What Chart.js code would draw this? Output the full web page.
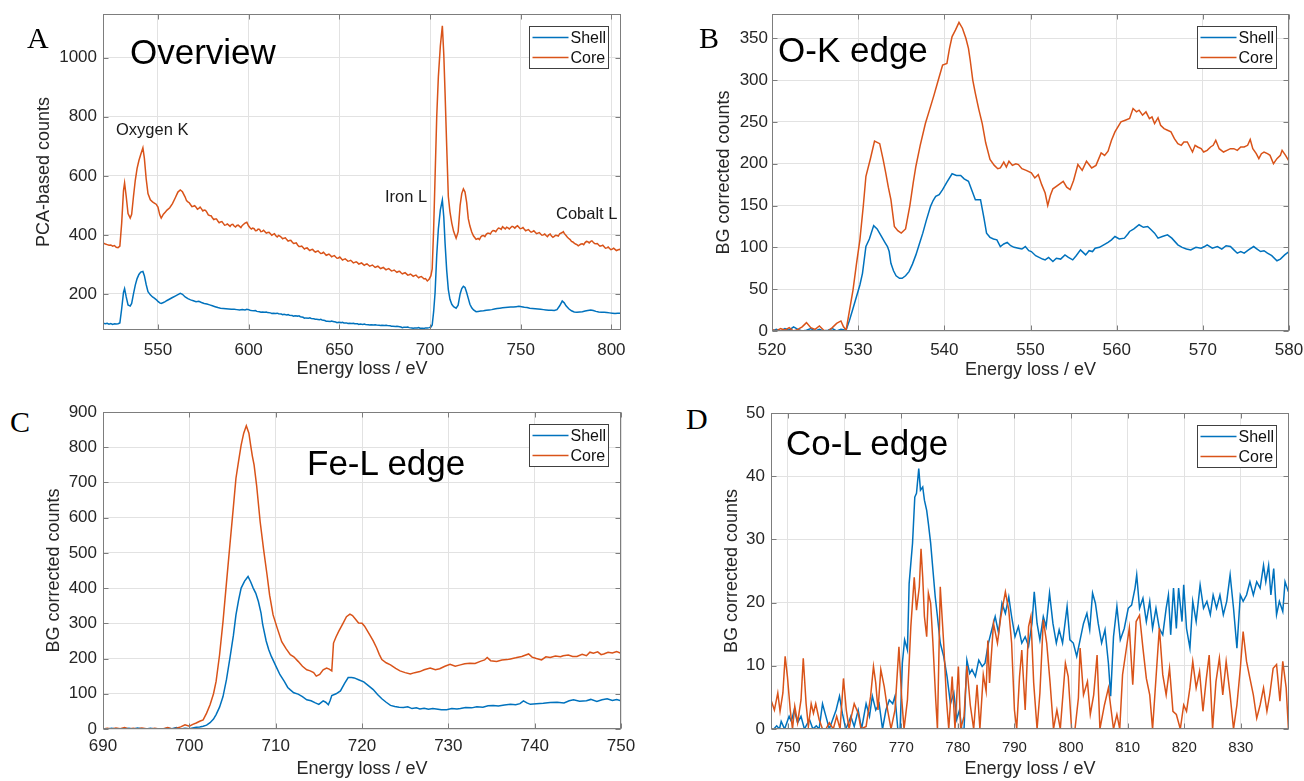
<!DOCTYPE html>
<html>
<head>
<meta charset="utf-8">
<script src="https://cdn.jsdelivr.net/npm/chart.js@4.4.1/dist/chart.umd.min.js"></script>
<style>
  body { margin: 0; background: #fff; width: 1304px; height: 781px; position: relative; overflow: hidden; font-family: "Liberation Sans", Arial, sans-serif; }
  canvas { position: absolute; }
  .lbl { position: absolute; white-space: nowrap; line-height: 1; color: #000; }
  .letter { font-family: "Liberation Serif", "Times New Roman", serif; font-size: 30px; }
  .ttl { font-size: 35px; }
  .ann { font-size: 16.5px; color: #1a1a1a; }
</style>
</head>
<body>
<canvas id="panelA"></canvas>
<canvas id="panelB"></canvas>
<canvas id="panelC"></canvas>
<canvas id="panelD"></canvas>

<div class="lbl letter" style="left:27px;top:23px">A</div>
<div class="lbl letter" style="left:699px;top:23px">B</div>
<div class="lbl letter" style="left:10px;top:407px">C</div>
<div class="lbl letter" style="left:686px;top:404px">D</div>

<div class="lbl ttl" style="left:130px;top:34px">Overview</div>
<div class="lbl ttl" style="left:778px;top:32px">O-K edge</div>
<div class="lbl ttl" style="left:307px;top:445px">Fe-L edge</div>
<div class="lbl ttl" style="left:786px;top:425px">Co-L edge</div>

<div class="lbl ann" style="left:116px;top:121px">Oxygen K</div>
<div class="lbl ann" style="left:385px;top:188px">Iron L</div>
<div class="lbl ann" style="left:556px;top:205px">Cobalt L</div>

<script>
// ---- data: [energy loss (eV), counts] ----

// A: overview
const ovCore = [[519.5,373],[521,369],[522,367],[523,365],[524,366],[525,362],[526,364],[527,358],[528,357],[529,362],
  [530,440],[531,550],[531.6,576],[532.5,530],[533.5,472],[534.7,457],[535.5,470],[536.5,530],[537.5,585],[538.5,625],
  [539.5,652],[540.5,672],[541.7,695],[542.5,660],[543.5,590],[544.5,540],[545.8,519],[547,512],[548,508],[549,504],
  [550,494],[551,468],[551.8,457],[553,470],[554,477],[555,484],[556.5,492],[558,506],[559.5,525],[561,545],
  [562.3,552],[563.5,546],[565,528],[566.5,512],[568,502],[569.5,497],[571,494],[572.5,490],[574,488],[575.5,484],
  [577,476],[578.5,466],[580,458],[581.5,454],[583,447],[584.5,444],[586,439],[587.5,434],[589,433],[590.5,435],
  [592,430],[593.5,432],[595,429],[596.5,432],[598,440],[599,443],[600,430],[601.5,420],[603,421],[604.5,415],
  [606,419],[607.5,412],[609,411],[610.5,408],[612,404],[613.5,402],[615,397],[616.5,398],[618,392],[619.5,389],
  [621,384],[622.5,381],[624,376],[625.5,372],[627,366],[628.5,361],[630,357],[631.5,355],[633,351],[634.5,350],
  [636,346],[637.5,344],[639,341],[640.5,338],[642,336],[643.5,333],[645,331],[646.5,328],[648,325],[649.5,322],
  [651,320],[652.5,317],[654,315],[655.5,312],[657,310],[658.5,307],[660,306],[661.5,303],[663,301],[664.5,300],
  [666,298],[667.5,296],[669,294],[670.5,292],[672,290],[673.5,288],[675,286],[676.5,284],[678,282],[679.5,279],
  [681,277],[682.5,276],[684,272],[685.5,270],[687,268],[688.5,265],[690,264],[691.5,262],[693,259],[694.5,258],
  [696,255],[697.5,252],[698.5,244],[699.5,250],[700.5,262],[701.2,285],[702,420],[702.8,598],[703.7,800],[704.6,935],
  [705.7,1040],[706.8,1108],[707.6,1010],[708.3,880],[709.2,700],[710.1,530],[711,478],[712,440],[713,412],[714.4,389],
  [715.5,410],[716.6,500],[717.5,540],[718.4,556],[719.3,545],[720.2,510],[721.1,455],[722,430],[723,410],[724,396],
  [725.4,385],[726.5,388],[728,393],[729.5,398],[731,402],[732.5,406],[734,411],[735.5,414],[737,418],[738.5,422],
  [740,428],[741.5,420],[743,424],[744.5,425],[746,427],[747.5,428],[749,426],[750.5,422],[752,419],[753.5,416],
  [755,413],[756.5,411],[758,409],[759.5,406],[761,403],[762.5,400],[764,398],[765.5,400],[767,396],[768.5,395],
  [770,398],[771.5,404],[772.9,408],[774,405],[775,398],[776.5,388],[778,378],[779.5,372],[781,367],[782.5,366],
  [784,370],[785.5,374],[787,377],[788.6,378],[790,375],[791.5,370],[793,366],[794.5,363],[796,360],[797.5,356],
  [799,354],[800.5,352],[802,351],[803.5,349],[805.5,347],
  // in-between readings (noise on the slopes)
  [565.75,516],[567.25,509],[568.75,496],[570.25,499],[571.75,487],[573.25,494],[574.75,481],[576.25,483],[577.75,468],[579.25,465],
  [580.75,452],[582.25,454],[583.75,441],[585.25,445],[586.75,433],[588.25,437],[589.75,429],[591.25,436],[592.75,427],[594.25,433],
  [595.75,425],[597.25,436],[600.75,424],[602.25,423],[603.75,414],[605.25,420],[606.75,411],[608.25,416],[609.75,406],[611.25,409],
  [612.75,399],[614.25,404],[615.75,393],[617.25,396],[618.75,387],[620.25,390],[621.75,379],[623.25,382],[624.75,371],[626.25,373],
  [627.75,361],[629.25,362],[630.75,352],[632.25,356],[633.75,347],[635.25,351],[636.75,342],[638.25,346],[639.75,337],[641.25,341],
  [642.75,331],[644.25,335],[645.75,326],[647.25,330],[648.75,321],[650.25,325],[651.75,315],[653.25,319],[654.75,311],[656.25,314],
  [657.75,305],[659.25,309],[660.75,301],[662.25,305],[663.75,297],[665.25,302],[666.75,294],[668.25,298],[669.75,290],[671.25,294],
  [672.75,286],[674.25,290],[675.75,282],[677.25,286],[678.75,278],[680.25,281],[681.75,273],[683.25,277],[684.75,268],[686.25,272],
  [687.75,264],[689.25,267],[690.75,260],[692.25,264],[693.75,255],[695.25,259],[696.75,251],
  [727.25,384],[728.75,397],[730.25,394],[731.75,406],[733.25,403],[734.75,415],[736.25,411],[737.75,423],[739.25,419],[740.75,424],
  [742.25,426],[743.75,420],[745.25,429],[746.75,423],[748.25,431],[749.75,421],[751.25,425],[752.75,414],[754.25,418],[755.75,409],
  [757.25,414],[758.75,404],[760.25,408],[761.75,399],[763.25,403],[764.75,394],[766.25,403],[767.75,392],[769.25,399],[770.75,396],
  [773.5,411],[775.75,392],[777.25,384],[778.75,376],[780.25,369],[781.75,363],[783.25,369],[784.75,367],[786.25,378],[787.75,373],
  [789.25,380],[790.75,371],[792.25,371],[793.75,362],[795.25,365],[796.75,355],[798.25,359],[799.75,350],[801.25,355],[802.75,347],
  [804.5,351]];
const ovShell = [[519.5,101],[521,99],[522,101],[523,98],[524,100],[525,97],[526,99],[527,98],[528,99],[529,102],
  [530,150],[531,205],[531.6,218],[532.5,190],[533.5,163],[534.7,159],[535.5,168],[536.5,200],[537.5,230],[538.5,252],
  [539.5,266],[540.5,274],[541.7,276],[542.5,262],[543.5,232],[544.5,208],[545.8,197],[547,190],[548,186],[549,181],
  [550,175],[551,170],[551.8,168],[553,171],[554,174],[555,178],[556.5,183],[558,188],[559.5,193],[561,198],
  [562.3,202],[563.5,199],[565,190],[566.5,184],[568,180],[569.5,177],[571,174],[572.5,175],[574,171],[575.5,168],
  [577,166],[578.5,163],[580,160],[581.5,157],[583,154],[584.5,152],[586,151],[587.5,150],[589,149],[590.5,148],
  [592,148],[593.5,147],[595,146],[596.5,147],[598,146],[599,148],[600,147],[601.5,144],[603,143],[604.5,141],
  [606,140],[607.5,139],[609,138],[610.5,137],[612,136],[613.5,135],[615,134],[616.5,133],[618,132],[619.5,131],
  [621,129],[622.5,128],[624,127],[625.5,126],[627,125],[628.5,123],[630,121],[631.5,119],[633,118],[634.5,117],
  [636,116],[637.5,114],[639,113],[640.5,112],[642,110],[643.5,108],[645,107],[646.5,107],[648,105],[649.5,104],
  [651,103],[652.5,102],[654,102],[655.5,101],[657,100],[658.5,99],[660,99],[661.5,98],[663,97],[664.5,97],
  [666,96],[667.5,96],[669,95],[670.5,95],[672,94],[673.5,94],[675,93],[676.5,93],[678,92],[679.5,91],
  [681,90],[682.5,90],[684,88],[685.5,87],[687,87],[688.5,86],[690,85],[691.5,85],[693,85],[694.5,84],
  [696,84],[697.5,85],[698.5,85],[699.5,86],[700.5,88],[701.2,95],[702,140],[702.8,205],[703.7,330],[704.6,420],
  [705.7,485],[706.8,518],[707.6,460],[708.3,372],[709.2,280],[710.1,215],[711,182],[712,165],[713,157],[714.4,152],
  [715.5,162],[716.6,200],[717.5,218],[718.4,226],[719.3,222],[720.2,205],[721.1,185],[722,165],[723,153],[724,146],
  [725.4,140],[726.5,141],[728,142],[729.5,143],[731,145],[732.5,146],[734,147],[735.5,149],[737,151],[738.5,152],
  [740,153],[741.5,154],[743,155],[744.5,156],[746,156],[747.5,157],[749,158],[750.5,157],[752,155],[753.5,154],
  [755,152],[756.5,151],[758,150],[759.5,149],[761,148],[762.5,147],[764,146],[765.5,145],[767,145],[768.5,144],
  [770,147],[771.5,160],[772.9,176],[774,170],[775,160],[776.5,150],[778,143],[779.5,139],[781,138],[782.5,139],
  [784,140],[785.5,142],[787,144],[788.6,146],[790,144],[791.5,141],[793,139],[794.5,138],[796,138],[797.5,137],
  [799,136],[800.5,135],[802,134],[803.5,135],[805.5,135],
  [600.75,145],[603.75,144],[606.75,138],[609.75,139],[612.75,134],[615.75,135],[618.75,130],[621.75,130],[624.75,125],[627.75,126],
  [630.75,118],[633.75,119],[636.75,114],[639.75,114],[642.75,108],[645.75,108],[648.75,103],[651.75,104],[654.75,100],[657.75,101],
  [660.75,97],[663.75,98],[666.75,95],[669.75,96],[672.75,93],[675.75,94],[678.75,91],[681.75,91],[684.75,86],[687.75,88],
  [690.75,84],[693.75,86],[696.75,83]];

// B: O-K edge
const okCore = [[520,2],[520.5,0],[521,3],[521.5,1],[522,4],[522.5,0],[523,2],[523.5,5],[524,10],[524.5,4],
  [525,2],[525.5,6],[526,1],[526.5,0],[527,4],[527.5,9],[528,12],[528.3,5],[528.6,1],[529,25],
  [529.4,49],[529.8,80],[530.2,109],[530.6,150],[530.9,185],[531.4,205],[531.9,227],[532.5,224],[532.9,205],[533.2,189],
  [533.5,172],[533.8,157],[534.2,125],[534.6,120],[535,117],[535.5,122],[536,150],[536.4,178],[536.7,197],[537.2,222],
  [537.8,248],[538.3,265],[538.8,282],[539.3,300],[539.8,318],[540.3,320],[540.6,338],[540.9,352],[541.3,360],[541.7,369],
  [542.1,362],[542.5,350],[542.8,338],[543,324],[543.3,300],[543.6,284],[544,265],[544.4,248],[544.8,225],[545.3,205],
  [545.8,198],[546.2,194],[546.5,195],[546.9,202],[547.2,196],[547.5,203],[547.9,198],[548.3,200],[548.6,199],[549,194],
  [549.5,192],[550.1,189],[550.5,183],[550.9,187],[551.3,175],[551.7,165],[552,150],[552.3,162],[552.6,170],[553,173],
  [553.4,176],[553.8,179],[554.2,172],[554.6,169],[555,180],[555.5,199],[556,192],[556.5,203],[557.1,195],[557.6,198],
  [558.2,213],[558.6,210],[559,215],[559.4,228],[559.8,238],[560.2,245],[560.5,250],[561,252],[561.5,254],[561.9,266],
  [562.3,262],[562.6,264],[563,258],[563.4,262],[563.8,254],[564.1,256],[564.4,248],[564.8,255],[565.1,246],[565.5,242],
  [565.9,240],[566.3,238],[566.7,230],[567.1,224],[567.5,222],[567.8,226],[568.2,226],[568.5,220],[568.8,214],[569.1,222],
  [569.4,220],[569.8,218],[570.1,214],[570.5,216],[570.9,220],[571.2,222],[571.5,228],[571.9,218],[572.4,214],[572.8,216],
  [573.2,218],[573.6,218],[574,216],[574.4,220],[574.8,220],[575.2,222],[575.5,229],[575.8,218],[576.2,212],[576.5,206],
  [576.8,212],[577.1,214],[577.5,212],[577.8,210],[578.2,200],[578.6,206],[579,210],[579.2,216],[579.6,210],[580,203]];
const okShell = [[520,0],[520.5,2],[521,0],[521.5,3],[522,1],[522.5,5],[523,2],[523.5,0],[524,1],[524.5,3],
  [525,0],[525.5,2],[526,0],[526.5,1],[527,3],[527.5,0],[528,2],[528.6,1],[529,13],[529.4,27],
  [529.8,41],[530.2,55],[530.5,69],[530.9,101],[531.3,110],[531.8,126],[532.2,122],[532.7,113],[533.1,106],[533.4,101],
  [533.6,95],[533.8,81],[534.1,72],[534.4,66],[534.8,63],[535.1,63],[535.5,66],[535.9,71],[536.3,80],[536.7,91],
  [537.1,104],[537.5,117],[537.9,132],[538.4,149],[538.7,156],[539,161],[539.4,163],[539.8,169],[540.3,178],[540.9,188],
  [541.4,186],[541.9,186],[542.3,182],[542.8,179],[543.2,168],[543.6,157],[544.2,157],[544.6,135],[544.9,117],[545.3,112],
  [545.7,110],[546.1,109],[546.5,101],[546.9,104],[547.3,106],[547.7,102],[548.1,100],[548.6,99],[549,98],[549.4,101],
  [549.8,96],[550.1,95],[550.6,90],[551,88],[551.4,86],[551.7,85],[552.1,88],[552.6,83],[553,87],[553.5,86],
  [554,91],[554.4,88],[554.9,85],[555.3,90],[555.8,97],[556.1,94],[556.4,91],[556.8,96],[557.2,95],[557.5,99],
  [558,100],[558.5,103],[559,106],[559.4,109],[559.8,113],[560.3,110],[560.9,111],[561.3,116],[561.5,119],[562,122],
  [562.6,127],[563.1,124],[563.6,125],[564,121],[564.4,117],[564.8,111],[565.3,113],[565.9,115],[566.4,111],[567.1,103],
  [567.6,100],[568.1,98],[568.6,97],[569.2,100],[569.8,99],[570.2,101],[570.5,103],[571.1,99],[571.7,101],[572.2,98],
  [572.7,102],[573.2,101],[573.6,97],[574,93],[574.4,95],[574.8,93],[575.3,97],[575.9,101],[576.3,98],[576.7,95],
  [577.1,96],[577.5,93],[578,90],[578.6,84],[579,86],[579.5,91],[580,95]];

// C: Fe-L edge
const feCore = [[690,0],[690.5,2],[691,0],[691.5,3],[692,1],[692.5,4],[693,0],[693.5,2],[694,0],[694.5,3],
  [695,1],[695.5,0],[696,2],[696.5,0],[697,1],[697.5,4],[698,0],[698.5,2],[699,6],[699.5,12],
  [700,8],[700.4,13],[700.8,17],[701.2,22],[701.6,26],[702,45],[702.4,69],[702.8,100],[703.1,135],[703.5,210],
  [703.9,305],[704.3,415],[704.7,523],[705.1,630],[705.4,712],[705.7,760],[706,806],[706.3,840],[706.6,861],[706.9,840],
  [707.1,806],[707.3,775],[707.5,750],[707.8,690],[708.2,589],[708.6,510],[709,438],[709.3,380],[709.7,324],[710.2,285],
  [710.7,248],[711.2,228],[711.7,211],[712.1,205],[712.6,192],[713.1,178],[713.6,168],[714,165],[714.4,160],[714.7,150],
  [715.1,155],[715.5,168],[715.9,173],[716.2,170],[716.5,165],[716.7,244],[717,262],[717.3,277],[717.8,300],[718.2,319],
  [718.6,326],[718.9,322],[719.3,310],[719.6,301],[720,300],[720.3,292],[720.9,267],[721.3,250],[721.7,230],[722,212],
  [722.3,197],[722.8,188],[723.3,182],[723.9,172],[724.4,165],[725,160],[725.6,156],[726.1,160],[726.7,163],[727.2,168],
  [727.9,173],[728.5,168],[729,171],[729.6,178],[730.2,184],[730.8,178],[731.4,182],[731.9,185],[732.5,187],[733.1,186],
  [733.7,192],[734.2,196],[734.5,203],[734.9,194],[735.6,192],[736.2,196],[736.8,197],[737.2,199],[737.8,202],[738.5,206],
  [739.3,213],[739.7,204],[740.2,200],[740.8,196],[741.3,205],[741.8,203],[742.4,207],[743,205],[743.3,208],[743.9,210],
  [744.4,206],[744.9,206],[745.5,212],[746,208],[746.4,218],[746.8,215],[747.3,219],[747.7,211],[748,213],[748.5,218],
  [749,216],[749.5,220],[750,215]];
const feShell = [[690,1],[690.5,0],[691,2],[691.5,0],[692,1],[692.5,0],[693,2],[693.5,0],[694,3],[694.5,1],
  [695,0],[695.5,2],[696,0],[696.5,1],[697,0],[697.5,2],[698,1],[698.5,4],[699,0],[699.5,2],
  [700,1],[700.4,3],[700.8,5],[701.2,6],[701.6,8],[702,11],[702.4,18],[702.8,28],[703.1,41],[703.5,62],
  [703.9,92],[704.3,140],[704.7,201],[705.1,265],[705.4,324],[705.7,365],[706,400],[706.4,420],[706.8,433],[707.1,418],
  [707.4,400],[707.7,385],[708,362],[708.3,330],[708.5,296],[708.9,250],[709.2,225],[709.5,206],[710,180],[710.5,154],
  [711,135],[711.4,118],[711.7,111],[712.1,103],[712.6,99],[713.1,92],[713.6,83],[714.1,80],[714.6,74],[715,70],
  [715.5,80],[715.8,76],[716.1,69],[716.3,80],[716.5,95],[717,100],[717.5,108],[718,130],[718.4,146],[718.8,146],
  [719.1,145],[719.6,140],[720.2,134],[720.7,124],[721.3,112],[721.8,98],[722.3,86],[722.8,76],[723.3,67],[723.8,64],
  [724.3,62],[724.8,61],[725.3,63],[725.8,58],[726.3,60],[726.7,57],[727.2,59],[727.7,56],[728.2,58],[728.6,57],
  [729.2,55],[729.8,55],[730.4,58],[731,57],[731.4,58],[732,61],[732.7,60],[733.3,63],[734,62],[734.6,66],
  [735.2,67],[735.8,65],[736.5,68],[737.2,70],[737.8,69],[738.3,72],[738.7,80],[739.1,74],[739.5,70],[740.2,72],
  [741,73],[741.8,75],[742.6,76],[743.4,74],[744,80],[744.5,83],[745.2,79],[746,80],[746.5,84],[747.2,78],
  [747.8,83],[748.4,86],[749,81],[749.5,84],[750,80]];

// D: Co-L edge
const coCore = [[747,4.6],[747.6,3],[748.2,5.7],[748.6,2.8],[749.1,5.7],[749.5,11.5],[749.9,8.3],[750.4,3],[750.8,0],[751.2,3.6],
  [751.7,1],[752.3,4.6],[752.7,11.2],[753.2,4],[753.6,0.4],[754.1,4],[754.5,2.5],[754.9,4],[755.5,1.5],[756.1,0],
  [756.7,0],[757.3,1],[758,0],[758.6,2],[759.2,0],[759.8,8],[760.3,3],[760.8,0],[761.2,2],[761.7,4],
  [762.4,2.5],[762.9,0],[763.8,0.4],[764.6,5.2],[765.1,9.9],[765.5,7.3],[765.9,3],[766.4,9.4],[767,6.7],[767.6,3],
  [768.2,0],[768.9,3],[769.6,13],[770.1,4.6],[770.5,0],[771.1,4.6],[771.7,16.2],[772.3,24],[772.7,18.8],[773.2,22.5],
  [773.5,28.5],[773.8,24],[774.1,17.8],[774.5,14.6],[774.8,21.5],[775.2,19.9],[775.6,13.6],[776.1,4.6],[776.4,0],[776.9,22.5],
  [777.5,13.6],[778,4.6],[778.4,0],[779,8.3],[779.5,0],[780.1,9.9],[780.5,0],[781.1,2],[781.6,10],[782.2,3.8],
  [782.8,0],[783.4,7],[783.9,0],[784.5,8.6],[785,6],[785.3,14],[785.6,7.3],[786.3,16.7],[787,13.6],[787.6,17.8],
  [788.4,21.7],[789,18.8],[789.5,13.6],[790,3],[790.4,0],[790.9,8.3],[791.3,12.5],[791.9,3],[792.5,16.2],[792.9,17.8],
  [793.4,7.3],[794,0],[794.5,5.7],[795.1,17.3],[795.7,13.6],[796.3,7.3],[796.9,0],[797.5,3],[798.1,0],[799,10.4],
  [799.5,8.3],[800.1,0],[800.7,0],[801.3,4.9],[801.6,12.8],[802.2,5.4],[802.9,7.5],[803.4,2.3],[804,5.4],[804.6,11.7],
  [805.1,0],[805.9,3.8],[806.6,6.5],[807.5,0],[808.1,2.3],[808.6,0],[809.1,8.6],[809.7,12.3],[810.3,16],[810.9,7],
  [811.5,17],[812.1,18],[812.7,12.8],[813.3,8],[813.9,5.4],[814.4,0],[815,8],[815.6,16],[816.2,8.6],[816.8,5.4],
  [817.4,9.6],[818,2.8],[818.6,2.3],[819.3,0],[819.9,3.8],[820.4,2.8],[821,6.5],[821.5,10.7],[822.1,6.5],[822.7,9.1],
  [823.3,2.8],[823.9,8],[824.4,11.7],[825,0],[825.6,7.5],[826.2,11.2],[826.8,5.4],[827.4,10.7],[828.1,5.4],[828.7,0],
  [829.3,3.8],[829.9,9.6],[830.4,15.4],[831,10.7],[831.6,8],[832.2,5.4],[832.8,1.7],[833.4,3.8],[834,6.5],[834.6,2.8],
  [835.1,5.4],[835.7,9.6],[836.3,10.2],[836.9,4.4],[837.4,10.7],[838,6.5],[838.4,0],[838.8,3]];
const coShell = [[747,0],[747.5,0],[748,0.5],[748.5,0],[748.8,1.2],[749.4,0],[750.2,2],[750.6,1.2],[751.1,3],[751.7,1],
  [752.3,2],[752.9,0],[753.8,1.5],[754.4,0],[755,0.5],[755.5,0],[756.1,4],[756.7,2],[757.3,0],[757.9,1.5],
  [758.5,3],[759.1,5.2],[759.6,2.5],[760.2,0],[760.7,1],[761.1,2],[761.7,0.4],[762.4,3],[763,0],[763.8,4],
  [764.4,2],[764.9,5.2],[765.5,3],[766.1,4],[766.7,0],[767.3,3],[767.9,4.6],[768.5,4],[768.9,5.2],[769.4,0],
  [769.8,0],[770.2,10.4],[770.6,14.1],[771.1,12.5],[771.4,23],[771.7,26.2],[772,29.4],[772.4,36.7],[772.7,37.3],[773.1,41.2],
  [773.4,37.8],[773.8,38.3],[774.1,36.2],[774.5,34.6],[774.8,32.5],[775.2,29.4],[775.6,25.2],[776,21],[776.4,17.8],[776.9,13.6],
  [777.5,11.5],[778.1,8.3],[778.7,4],[779.3,5.7],[779.8,1.5],[780.3,3],[780.7,0],[781.1,0],[781.6,10.9],[782.1,8.8],
  [782.5,9.4],[783.1,8.3],[783.7,10.9],[784.3,9.9],[784.8,10.4],[785.4,13.6],[786,15.7],[786.6,17.8],[787.2,15.2],[787.8,19.9],
  [788.4,18.3],[789,20.9],[789.5,17.8],[790.1,14.6],[790.7,16.2],[791.3,13.6],[791.9,14.6],[792.5,13.1],[793.1,16.7],[793.5,21.7],
  [794,16.7],[794.5,14.1],[795.1,17.8],[795.6,16.2],[796.2,21.5],[796.8,16.7],[797.4,13.6],[797.9,15.7],[798.5,13.6],[799.3,19.4],
  [799.8,14.1],[800.4,13.6],[801,11.5],[801.6,14.1],[802.2,16.7],[802.8,18.3],[803.3,15.7],[803.8,21.5],[804.3,19.9],[804.8,16.7],
  [805.4,13.6],[806,15.7],[806.6,10.4],[807,5.2],[807.5,14.6],[808.1,19.4],[808.7,14.1],[809.4,15.9],[810.1,19.1],[810.7,19.6],
  [811.3,22.3],[811.6,24.4],[812.1,19.1],[812.7,20.7],[813.3,17],[813.9,20.2],[814.4,15.9],[815,19.1],[815.6,15.9],[816.2,14.9],
  [816.8,19.1],[817.2,21.2],[817.6,14.9],[818.1,22.3],[818.6,15.9],[819,22.3],[819.6,17],[819.9,22.8],[820.4,15.9],[821,12.8],
  [821.5,20.2],[822.1,17],[822.8,22.8],[823.4,19.1],[824,20.2],[824.6,18.1],[825.1,21.2],[825.7,19.1],[826.3,21.2],[826.9,18.1],
  [827.5,20.2],[828.1,24.4],[828.7,19.1],[829.3,12.8],[829.9,21.2],[830.4,20.2],[831,21.2],[831.6,23.3],[832.2,21.2],[832.8,23.3],
  [833.4,22.3],[834,25.9],[834.4,23.3],[834.9,25.9],[835.3,21.2],[835.8,25.4],[836.3,18.1],[836.8,20.2],[837.4,18.6],[837.8,23.3],
  [838.4,21.7]];

// tick values
const ovTicksX = [550, 600, 650, 700, 750, 800];
const ovTicksY = [200, 400, 600, 800, 1000];
const okTicksX = [520, 530, 540, 550, 560, 570, 580];
const okTicksY = [0, 50, 100, 150, 200, 250, 300, 350];
const feTicksX = [690, 700, 710, 720, 730, 740, 750];
const feTicksY = [0, 100, 200, 300, 400, 500, 600, 700, 800, 900];
const coTicksX = [750, 760, 770, 780, 790, 800, 810, 820, 830];
const coTicksY = [0, 10, 20, 30, 40, 50];

const SHELL = "#0072BD";
const CORE = "#D95319";
const TXT = "#262626";
const GRID = "#e2e2e2";
const FONT = "'Liberation Sans', Arial, sans-serif";

Chart.defaults.font.family = FONT;

// matlab-ish box, inward ticks and legend inside the plot
const axesDeco = {
  id: "axesDeco",
  afterDatasetsDraw(chart) {
    const { ctx, chartArea: a, scales } = chart;
    const l = Math.round(a.left) + 0.5, r = Math.round(a.right) - 0.5;
    const t = Math.round(a.top) + 0.5, b = Math.round(a.bottom) - 0.5;
    ctx.save();
    ctx.strokeStyle = "#7d7d7d";
    ctx.lineWidth = 1;
    ctx.beginPath();
    scales.x.ticks.forEach((tk) => {
      const px = Math.round(scales.x.getPixelForValue(tk.value)) + 0.5;
      ctx.moveTo(px, b); ctx.lineTo(px, b - 5);
      ctx.moveTo(px, t); ctx.lineTo(px, t + 5);
    });
    scales.y.ticks.forEach((tk) => {
      const py = Math.round(scales.y.getPixelForValue(tk.value)) + 0.5;
      ctx.moveTo(l, py); ctx.lineTo(l + 5, py);
      ctx.moveTo(r, py); ctx.lineTo(r - 5, py);
    });
    ctx.stroke();
    ctx.strokeRect(l, t, r - l, b - t);

    // legend box
    const bw = 79, bh = 42;
    const bx = Math.round(a.right - 13 - bw) + 0.5;
    const by = Math.round(a.top + 12) + 0.5;
    ctx.fillStyle = "#fff";
    ctx.fillRect(bx, by, bw, bh);
    ctx.strokeStyle = "#404040";
    ctx.strokeRect(bx, by, bw, bh);
    ctx.font = "16px " + FONT;
    ctx.textBaseline = "middle";
    ctx.textAlign = "left";
    chart.data.datasets.forEach((ds, i) => {
      const ly = by + 11 + i * 20;
      ctx.strokeStyle = ds.borderColor;
      ctx.lineWidth = 1.5;
      ctx.beginPath();
      ctx.moveTo(bx + 3, ly);
      ctx.lineTo(bx + 39, ly);
      ctx.stroke();
      ctx.fillStyle = "#111";
      ctx.fillText(ds.label, bx + 41, ly + 1.5);
    });
    ctx.restore();
  },
};
Chart.register(axesDeco);

// points sorted along the energy axis
const toXY = (pts) => pts.slice().sort((p, q) => p[0] - q[0]).map((p) => ({ x: p[0], y: p[1] }));

function makePanel(cfg) {
  const a = cfg.area;
  const L = Math.round(cfg.yTitleX - 20);
  const T = a.t - 24;
  const W = a.r + 30 - L;
  const H = cfg.xTitleBase + 12 - T;
  const padLeft = cfg.yTitleX - 10.8 - L;
  const yW = a.l - L - padLeft;
  const xH = cfg.xTitleBase - 6.2 + 10.8 - a.b;
  const padBottom = H - (a.b - T) - xH;
  const xFont = cfg.xFont || 17;
  const xPad = cfg.xLabelBase - 0.3465 * xFont - 0.6 * xFont - a.b;

  const cv = document.getElementById(cfg.id);
  cv.width = W;
  cv.height = H;
  cv.style.left = L + "px";
  cv.style.top = T + "px";

  return new Chart(cv, {
    type: "line",
    data: {
      datasets: [
        { label: "Shell", data: toXY(cfg.shell), borderColor: SHELL, order: 1 },
        { label: "Core", data: toXY(cfg.core), borderColor: CORE, order: 0 },
      ],
    },
    options: {
      responsive: false,
      animation: false,
      events: [],
      elements: {
        point: { radius: 0 },
        line: { borderWidth: 1.5, tension: 0, fill: false },
      },
      layout: { padding: { left: padLeft, top: 24, right: 30, bottom: padBottom } },
      plugins: { legend: { display: false }, tooltip: { enabled: false } },
      scales: {
        x: {
          type: "linear",
          min: cfg.xMin,
          max: cfg.xMax,
          afterBuildTicks: (s) => { s.ticks = cfg.xTicks.map((v) => ({ value: v })); },
          afterFit: (s) => { s.height = xH; },
          grid: { color: GRID, drawTicks: false },
          border: { display: false },
          ticks: {
            padding: xPad, color: TXT, font: { size: xFont },
            maxRotation: 0, autoSkip: false, callback: (v) => String(v),
          },
          title: { display: true, text: "Energy loss / eV", color: TXT, font: { size: 18 }, padding: 0 },
        },
        y: {
          type: "linear",
          min: cfg.yMin,
          max: cfg.yMax,
          afterBuildTicks: (s) => { s.ticks = cfg.yTicks.map((v) => ({ value: v })); },
          afterFit: (s) => { s.width = yW; },
          grid: { color: GRID, drawTicks: false },
          border: { display: false },
          ticks: {
            padding: cfg.yPad, color: TXT, font: { size: 17 },
            autoSkip: false, callback: (v) => String(v),
          },
          title: { display: true, text: cfg.yTitle, color: TXT, font: { size: 18 }, padding: 0 },
        },
      },
    },
  });
}

makePanel({
  id: "panelA", area: { l: 103, t: 14, r: 621, b: 330 },
  yTitleX: 44, xTitleBase: 375, xLabelBase: 356, yPad: 6,
  xMin: 519.7, xMax: 805.3, yMin: 78, yMax: 1148,
  xTicks: ovTicksX, yTicks: ovTicksY, yTitle: "PCA-based counts",
  shell: ovShell, core: ovCore,
});

makePanel({
  id: "panelB", area: { l: 772, t: 14, r: 1289, b: 331 },
  yTitleX: 724, xTitleBase: 376, xLabelBase: 356, yPad: 4,
  xMin: 520, xMax: 580, yMin: 0, yMax: 379,
  xTicks: okTicksX, yTicks: okTicksY, yTitle: "BG corrected counts",
  shell: okShell, core: okCore,
});

makePanel({
  id: "panelC", area: { l: 103, t: 412, r: 621, b: 729 },
  yTitleX: 54, xTitleBase: 775, xLabelBase: 752, yPad: 6,
  xMin: 690, xMax: 750, yMin: 0, yMax: 900,
  xTicks: feTicksX, yTicks: feTicksY, yTitle: "BG corrected counts",
  shell: feShell, core: feCore,
});

makePanel({
  id: "panelD", area: { l: 771, t: 413, r: 1289, b: 729 },
  yTitleX: 732.5, xTitleBase: 775, xLabelBase: 753, xFont: 15, yPad: 6,
  xMin: 747, xMax: 838.5, yMin: 0, yMax: 50,
  xTicks: coTicksX, yTicks: coTicksY, yTitle: "BG corrected counts",
  shell: coShell, core: coCore,
});
</script>
</body>
</html>
